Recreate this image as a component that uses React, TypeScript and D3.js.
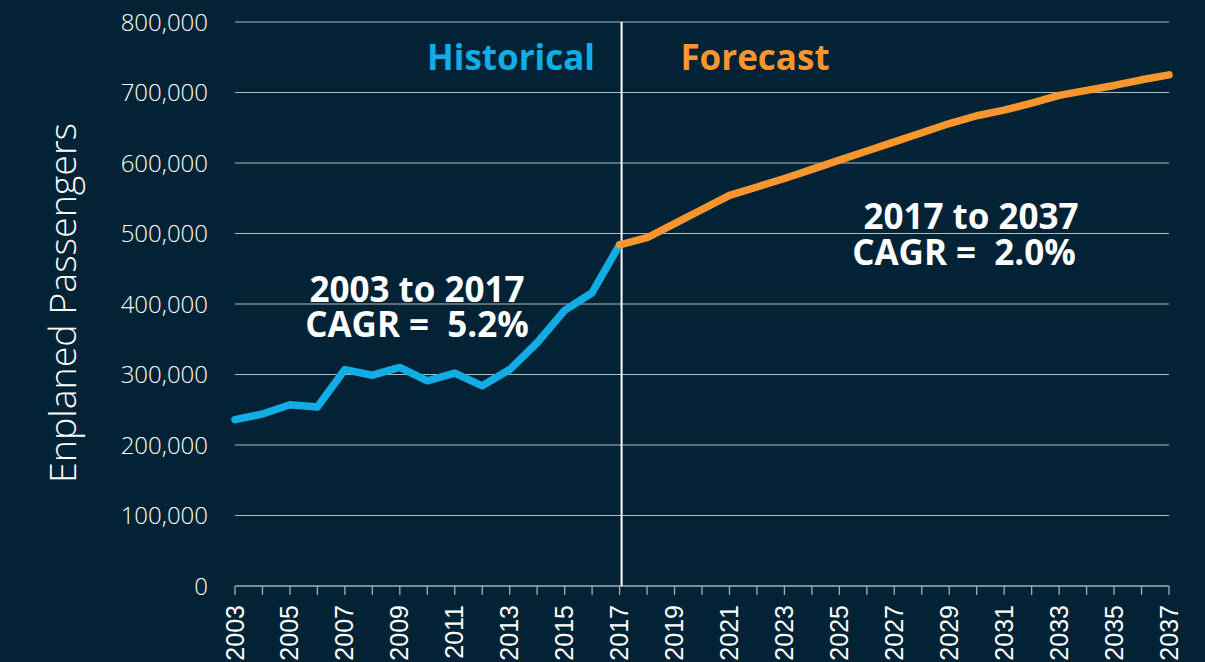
import React, { useEffect } from "react";
import * as d3 from "d3";

const histYears = [2003, 2004, 2005, 2006, 2007, 2008, 2009, 2010, 2011, 2012, 2013, 2014, 2015, 2016, 2017];
const histValues = [236000, 244000, 257000, 254000, 307000, 299000, 310000, 291000, 302000, 284000, 307000, 345000, 391000, 416000, 484000];

const foreYears = [2017, 2018, 2019, 2020, 2021, 2022, 2023, 2024, 2025, 2026, 2027, 2028, 2029, 2030, 2031, 2032, 2033, 2034, 2035, 2036, 2037];
const foreValues = [484000, 494000, 514000, 534000, 554000, 566000, 578000, 591000, 604000, 617000, 630000, 643000, 656000, 667000, 675000, 685000, 696000, 703000, 710000, 718000, 725000];

const yTicks = [0, 100000, 200000, 300000, 400000, 500000, 600000, 700000, 800000];
const allYears = d3.range(2003, 2038);
const labelYears = d3.range(2003, 2038, 2);

const W = 1205;
const H = 662;
const BG = "#022335";
const BLUE = "#13ade6";
const ORANGE = "#f7962e";

export default function App() {
  useEffect(() => {
    document.body.style.margin = "0";
    document.body.style.overflow = "hidden";
  }, []);

  const x = d3.scaleLinear().domain([2003, 2037]).range([235, 1169]);
  const y = d3.scaleLinear().domain([0, 800000]).range([586, 22]);
  const line = d3
    .line<[number, number]>()
    .x((d) => x(d[0]))
    .y((d) => y(d[1]));

  const histPts = histYears.map((yr, i) => [yr, histValues[i]] as [number, number]);
  const forePts = foreYears.map((yr, i) => [yr, foreValues[i]] as [number, number]);
  const fmt = d3.format(",");

  return (
    <svg width={W} height={H} style={{ display: "block", background: BG }}>
      <rect x={0} y={0} width={W} height={H} fill={BG} />
      {yTicks.map((t) => (
        <g key={t}>
          {t > 0 && (
            <line x1={x(2003)} x2={x(2037)} y1={y(t)} y2={y(t)} stroke="#b4babe" strokeWidth={1.2} />
          )}
          <text
            x={208}
            y={y(t)}
            dy="0.36em"
            textAnchor="end"
            fill="#ffffff"
            fontFamily="'Open Sans', sans-serif"
            fontWeight={300}
            fontSize={24}
          >
            {fmt(t)}
          </text>
        </g>
      ))}
      <line x1={x(2003)} x2={x(2037)} y1={y(0)} y2={y(0)} stroke="#a6adb2" strokeWidth={1.5} />
      {allYears.map((yr) => (
        <line key={yr} x1={x(yr)} x2={x(yr)} y1={y(0)} y2={y(0) + 9} stroke="#a6adb2" strokeWidth={1.3} />
      ))}
      {labelYears.map((yr) => (
        <text
          key={yr}
          transform={`translate(${x(yr)},605) rotate(-90)`}
          dy="0.34em"
          textAnchor="end"
          fill="#ffffff"
          fontFamily="'Liberation Sans', Arial, sans-serif"
          fontSize={25}
        >
          {yr}
        </text>
      ))}
      <text
        transform={`translate(76,303) rotate(-90)`}
        textAnchor="middle"
        fill="#ffffff"
        fontFamily="'Open Sans', sans-serif"
        fontWeight={300}
        fontSize={37.5}
      >
        Enplaned Passengers
      </text>
      <line x1={x(2017) + 2} x2={x(2017) + 2} y1={y(800000)} y2={y(0)} stroke="#ffffff" strokeWidth={2} />
      <path d={line(histPts) || ""} fill="none" stroke={BLUE} strokeWidth={7.5} strokeLinejoin="round" strokeLinecap="round" />
      <path d={line(forePts) || ""} fill="none" stroke={ORANGE} strokeWidth={7.5} strokeLinejoin="round" strokeLinecap="round" />
      <text x={511} y={70} textAnchor="middle" fill={BLUE} fontFamily="'Open Sans', sans-serif" fontWeight={700} fontSize={35}>
        Historical
      </text>
      <text x={755} y={70} textAnchor="middle" fill={ORANGE} fontFamily="'Open Sans', sans-serif" fontWeight={700} fontSize={35}>
        Forecast
      </text>
      <g fill="#ffffff" fontFamily="'Open Sans', sans-serif" fontWeight={700} fontSize={35} textAnchor="middle">
        <text x={417} y={302}>2003 to 2017</text>
        <text x={417} y={337}>{"CAGR =\u00a0 5.2%"}</text>
        <text x={971} y={229}>2017 to 2037</text>
        <text x={964} y={265}>{"CAGR =\u00a0 2.0%"}</text>
      </g>
    </svg>
  );
}
